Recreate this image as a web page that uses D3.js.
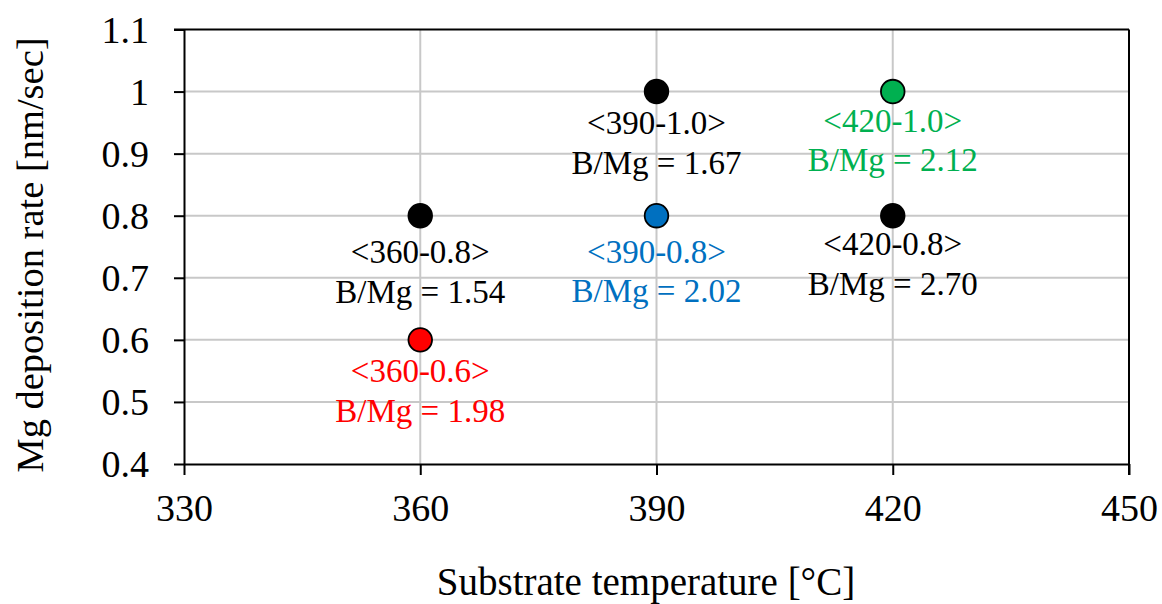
<!DOCTYPE html>
<html>
<head>
<meta charset="utf-8">
<script src="https://cdn.jsdelivr.net/npm/d3@7"></script>
<style>
  html, body { margin: 0; padding: 0; background: #fff; }
  svg { display: block; font-family: "Liberation Serif", "Tinos", "Times New Roman", "DejaVu Serif", serif; }
</style>
</head>
<body>
<svg id="chart" width="1162" height="604"></svg>
<script>
// Samples: substrate temperature (°C), Mg deposition rate (nm/sec), measured B/Mg ratio
const temps  = [360, 360, 390, 390, 420, 420];
const rates  = [0.8, 0.6, 1.0, 0.8, 1.0, 0.8];
const ratios = [1.54, 1.98, 1.67, 2.02, 2.12, 2.70];

const xTicks = [330, 360, 390, 420, 450];
const yTicks = [0.4, 0.5, 0.6, 0.7, 0.8, 0.9, 1.0, 1.1];

// Styling per sample
const pointColors = ["#000000", "#FF0000", "#000000", "#0070C0", "#00B050", "#000000"];
// Vertical distance from marker centre to the first label baseline
const labelDy = [47.5, 42.5, 42.5, 47, 40, 39.5];
const lineGap = 39.5;

const serif = '"Liberation Serif", "Tinos", "Times New Roman", "DejaVu Serif", serif';
const svg = d3.select("#chart");
const plotLeft = 184, plotRight = 1129, plotTop = 29.5, plotBottom = 464;

const x = d3.scaleLinear().domain([330, 450]).range([plotLeft, plotRight]);
const y = d3.scaleLinear().domain([0.4, 1.1]).range([plotBottom, plotTop]);

// Gridlines
svg.append("g")
  .selectAll("line")
  .data(xTicks.filter(t => t !== 330 && t !== 450))
  .join("line")
  .attr("x1", d => x(d)).attr("x2", d => x(d))
  .attr("y1", plotTop).attr("y2", plotBottom)
  .attr("stroke", "#c8c8c8").attr("stroke-width", 2);

svg.append("g")
  .selectAll("line")
  .data(yTicks.filter(t => t !== 0.4 && t !== 1.1))
  .join("line")
  .attr("x1", plotLeft).attr("x2", plotRight)
  .attr("y1", d => y(d)).attr("y2", d => y(d))
  .attr("stroke", "#c8c8c8").attr("stroke-width", 2);

// Frame: top and right edges
svg.append("line")
  .attr("x1", plotLeft - 10).attr("x2", plotRight)
  .attr("y1", plotTop).attr("y2", plotTop)
  .attr("stroke", "#000").attr("stroke-width", 2);
svg.append("line")
  .attr("x1", plotRight).attr("x2", plotRight)
  .attr("y1", plotTop).attr("y2", plotBottom + 11)
  .attr("stroke", "#000").attr("stroke-width", 2);

// Axes
const xAxis = d3.axisBottom(x).tickValues(xTicks).tickFormat(d3.format("d"))
  .tickSizeInner(11).tickSizeOuter(0).tickPadding(19);
const yAxis = d3.axisLeft(y).tickValues(yTicks)
  .tickFormat(d => d === 1 ? "1" : d3.format(".1f")(d))
  .tickSizeInner(10).tickSizeOuter(0).tickPadding(25);

const gx = svg.append("g").attr("transform", `translate(0,${plotBottom})`).call(xAxis);
const gy = svg.append("g").attr("transform", `translate(${plotLeft},0)`).call(yAxis);

[gx, gy].forEach(g => {
  g.attr("font-family", null);
  g.selectAll("path.domain").attr("stroke", "#000").attr("stroke-width", 2);
  g.selectAll(".tick line").attr("stroke", "#000").attr("stroke-width", 2);
  g.selectAll(".tick text")
    .attr("fill", "#000")
    .style("font-family", serif)
    .style("font-size", "38px");
});
gy.selectAll(".tick text").attr("dy", "0.34em");

// Axis titles
svg.append("text")
  .attr("x", 646).attr("y", 595)
  .attr("text-anchor", "middle")
  .style("font-family", serif)
  .style("font-size", "39px")
  .text("Substrate temperature [°C]");

svg.append("text")
  .attr("transform", "translate(43,255) rotate(-90)")
  .attr("text-anchor", "middle")
  .style("font-family", serif)
  .style("font-size", "38.5px")
  .text("Mg deposition rate [nm/sec]");

// Markers
const idx = d3.range(temps.length);
svg.append("g")
  .selectAll("circle")
  .data(idx)
  .join("circle")
  .attr("cx", i => x(temps[i]))
  .attr("cy", i => y(rates[i]))
  .attr("r", 11.8)
  .attr("fill", i => pointColors[i])
  .attr("stroke", "#000")
  .attr("stroke-width", 1.8);

// Sample labels
const labels = svg.append("g")
  .selectAll("text")
  .data(idx)
  .join("text")
  .attr("text-anchor", "middle")
  .attr("fill", i => pointColors[i])
  .style("font-family", serif)
  .style("font-size", "33px");

labels.append("tspan")
  .attr("x", i => x(temps[i]))
  .attr("y", i => y(rates[i]) + labelDy[i])
  .text(i => `<${temps[i]}-${rates[i].toFixed(1)}>`);

labels.append("tspan")
  .attr("x", i => x(temps[i]))
  .attr("y", i => y(rates[i]) + labelDy[i] + lineGap)
  .text(i => `B/Mg = ${ratios[i].toFixed(2)}`);
</script>
</body>
</html>
